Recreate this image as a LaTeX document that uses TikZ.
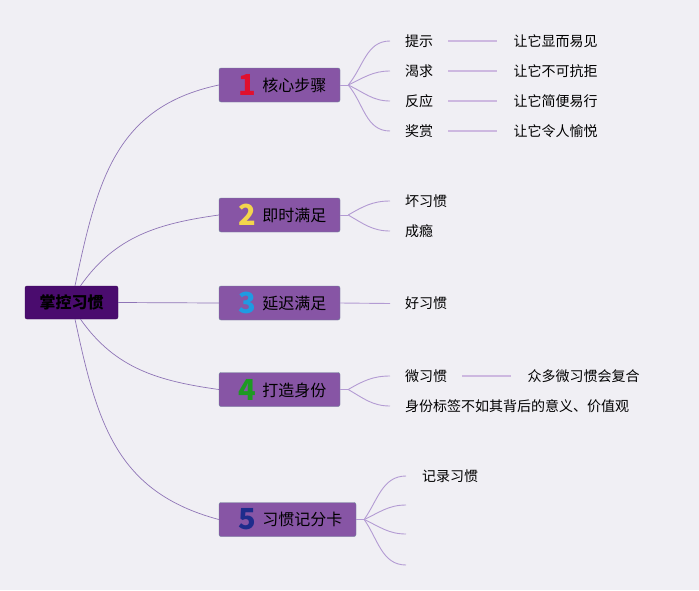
\documentclass[tikz,border=0pt]{standalone}
\usepackage{fontspec}
\newfontfamily\cjk{Noto Sans CJK SC}
\usetikzlibrary{positioning}
\definecolor{bgcol}{HTML}{F0EFF4}
\definecolor{rootfill}{HTML}{4A0C6E}
\definecolor{rootline}{HTML}{3A0858}
\definecolor{topicfill}{HTML}{8755A5}
\definecolor{topicline}{HTML}{6E8799}
\definecolor{mainline}{HTML}{8E74B6}
\definecolor{subline}{HTML}{B39BD3}
\definecolor{linkcol}{HTML}{CDB8E0}
\definecolor{numred}{HTML}{E0102E}
\definecolor{numyellow}{HTML}{F3D64C}
\definecolor{numblue}{HTML}{1F9BE2}
\definecolor{numgreen}{HTML}{1D9A22}
\definecolor{numnavy}{HTML}{1E2C8C}
\newcommand\numtag[2]{\hspace{6pt}\raisebox{-4pt}{\color{#1}\fontsize{29}{29}\selectfont\bfseries #2}\hspace{6pt}}
\tikzset{%
  root/.style={draw=rootline,fill=rootfill,rounded corners=2pt,minimum width=93pt,
    minimum height=33pt,inner sep=0pt,font=\cjk\bfseries\fontsize{16}{18}\selectfont},
  topic/.style={draw=topicline,fill=topicfill,rounded corners=2pt,minimum height=34pt,
    inner sep=0pt,font=\cjk\fontsize{16}{18}\selectfont},
  leaf/.style={anchor=west,inner sep=0pt,font=\cjk\fontsize{14}{16}\selectfont},
  main/.style={draw=mainline,line width=0.7pt},
  sub/.style={draw=subline,line width=0.9pt},
  link/.style={draw=linkcol,line width=2pt}
}
\begin{document}
\begin{tikzpicture}[x=1pt,y=-1pt]
  \fill[bgcol] (0,0) rectangle (699,590);
  \useasboundingbox (0,0) rectangle (699,590);
  % root and topics
  \node[root] (root) at (71.5,302.5) {掌控习惯};
  \node[topic,minimum width=121pt] (t1) at (279.5,85) {\numtag{numred}{1}核心步骤};
  \node[topic,minimum width=121pt] (t2) at (279.5,215) {\numtag{numyellow}{2}即时满足};
  \node[topic,minimum width=121pt] (t3) at (279.5,303) {\numtag{numblue}{3}延迟满足};
  \node[topic,minimum width=121pt] (t4) at (279.5,389.5) {\numtag{numgreen}{4}打造身份};
  \node[topic,minimum width=137pt] (t5) at (287.5,519.5) {\numtag{numnavy}{5}习惯记分卡};
  \draw[main] ([xshift=3.5pt]root.north) to[out=78,in=192,looseness=1.1] (t1.west);
  \draw[main] ([xshift=9pt]root.north) to[out=55,in=188] (t2.west);
  \draw[main] (root.east) -- (t3.west);
  \draw[main] ([xshift=9pt]root.south) to[out=-55,in=172] (t4.west);
  \draw[main] ([xshift=3.5pt]root.south) to[out=-78,in=165,looseness=1.1] (t5.west);
  % 1
  \node[leaf] (c11) at (405,41) {提示};
  \node[leaf] (c12) at (405,71) {渴求};
  \node[leaf] (c13) at (405,101) {反应};
  \node[leaf] (c14) at (405,131) {奖赏};
  \node[leaf,right=80pt of c11] (d11) {让它显而易见};
  \node[leaf,right=80pt of c12] (d12) {让它不可抗拒};
  \node[leaf,right=80pt of c13] (d13) {让它简便易行};
  \node[leaf,right=80pt of c14] (d14) {让它令人愉悦};
  \draw[sub] (t1.east) -- ++(8,0) coordinate (f1);
  \draw[sub] (f1) to[out=50,in=180] ([xshift=-15pt]c11.west);
  \draw[sub] (f1) to[out=25,in=180] ([xshift=-15pt]c12.west);
  \draw[sub] (f1) to[out=-25,in=180] ([xshift=-15pt]c13.west);
  \draw[sub] (f1) to[out=-50,in=180] ([xshift=-15pt]c14.west);
  \draw[link] ([xshift=15pt]c11.east) -- ([xshift=-16pt]d11.west);
  \draw[link] ([xshift=15pt]c12.east) -- ([xshift=-16pt]d12.west);
  \draw[link] ([xshift=15pt]c13.east) -- ([xshift=-16pt]d13.west);
  \draw[link] ([xshift=15pt]c14.east) -- ([xshift=-16pt]d14.west);
  % 2
  \node[leaf] (c21) at (405,201) {坏习惯};
  \node[leaf] (c22) at (405,231) {成瘾};
  \draw[sub] (t2.east) -- ++(8,0) coordinate (f2);
  \draw[sub] (f2) to[out=30,in=180] ([xshift=-15pt]c21.west);
  \draw[sub] (f2) to[out=-30,in=180] ([xshift=-15pt]c22.west);
  % 3
  \node[leaf] (c31) at (405,303.5) {好习惯};
  \draw[sub] (t3.east) -- ([xshift=-15pt]c31.west);
  % 4
  \node[leaf] (c41) at (405,376) {微习惯};
  \node[leaf] (c42) at (405,406) {身份标签不如其背后的意义、价值观};
  \node[leaf,right=80pt of c41] (d41) {众多微习惯会复合};
  \draw[sub] (t4.east) -- ++(8,0) coordinate (f4);
  \draw[sub] (f4) to[out=30,in=180] ([xshift=-15pt]c41.west);
  \draw[sub] (f4) to[out=-30,in=180] ([xshift=-15pt]c42.west);
  \draw[link] ([xshift=15pt]c41.east) -- ([xshift=-16pt]d41.west);
  % 5
  \node[leaf] (c51) at (422,476) {记录习惯};
  \coordinate (e52) at (406,505);
  \coordinate (e53) at (406,534);
  \coordinate (e54) at (406,565);
  \draw[sub] (t5.east) -- ++(8,0) coordinate (f5);
  \draw[sub] (f5) to[out=55,in=180] ([xshift=-16pt]c51.west);
  \draw[sub] (f5) to[out=25,in=180] (e52);
  \draw[sub] (f5) to[out=-25,in=180] (e53);
  \draw[sub] (f5) to[out=-55,in=180] (e54);
\end{tikzpicture}
\end{document}
